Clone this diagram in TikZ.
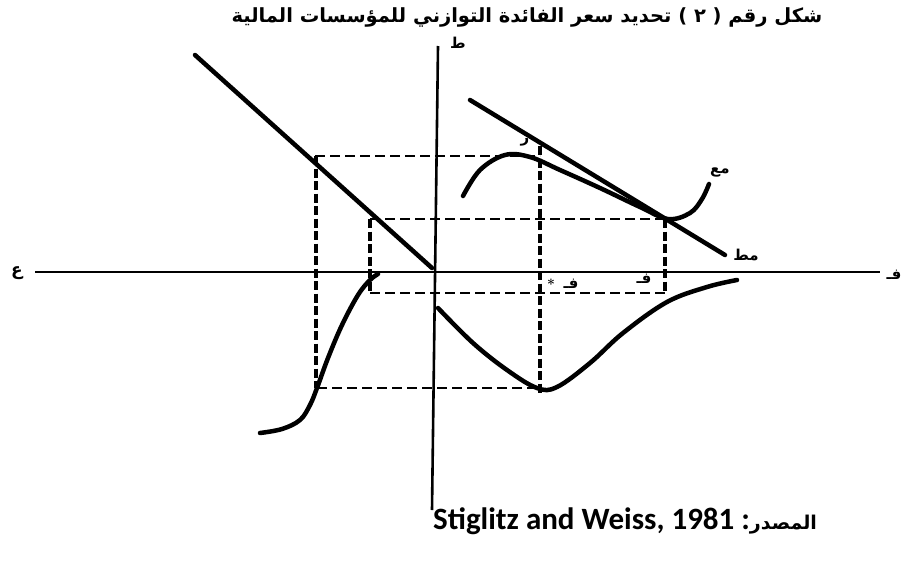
\documentclass[tikz,border=0pt]{standalone}
\usepackage{fontspec}
\newfontfamily\arb[Script=Arabic]{DejaVu Sans}
\newfontfamily\lat{Carlito}
\newcommand\arw[1]{\hbox{#1}}
\begin{document}
\begin{tikzpicture}[x=1pt,y=-1pt,
  axisline/.style={line width=2.6pt},
  curv/.style={line width=4.5pt, line cap=round},
  hdash/.style={line width=2.4pt, dash pattern=on 10pt off 5pt},
  vdash/.style={line width=3.6pt, dash pattern=on 9pt off 3.5pt},
  lab/.style={font=\arb\bfseries\fontsize{15}{15}\selectfont, inner sep=0pt}]
\useasboundingbox (0,0) rectangle (910,565);
% title (printed with its words running left to right)
\node[font=\arb\bfseries\fontsize{19.5}{19.5}\selectfont, inner sep=0pt] (title) at (527,17) {\arw{المالية} \arw{للمؤسسات} \arw{التوازني} \arw{الفائدة} \arw{سعر} \arw{تحديد} \arw{)} \arw{٢} \arw{(} \arw{رقم} \arw{شكل}};
% axes
\coordinate (xl) at (35,272); \coordinate (xr) at (880,272);
\coordinate (yt) at (438,46); \coordinate (yb) at (432,510);
\draw[axisline] (xl) -- (xr);
\draw[axisline] (yt) -- (yb);
\node[lab, font=\arb\bfseries\fontsize{17}{17}\selectfont] (lw) at (17,273) {ع};
\node[lab] (le) at (894,275) {فـ};
\node[lab] (ln) at (458,43) {ط};
% dashed guides
\draw[hdash] (315,156) -- (540,156);
\draw[hdash] (370,219) -- (665,219);
\draw[hdash] (370,293) -- (665,293);
\draw[hdash] (317,388) -- (540,388);
\draw[vdash] (316,156) -- (316,388);
\draw[vdash] (370,219) -- (370,293);
\draw[vdash] (665,219) -- (665,293);
\draw[vdash] (540,146) -- (540,393);
% left diagonal line
\coordinate (d1) at (195,55); \coordinate (d2) at (432,268);
\draw[curv] (d1) -- (d2);
% straight line m-t
\coordinate (s1) at (470,100); \coordinate (s2) at (725,255);
\draw[curv] (s1) -- (s2);
\node[lab] (lmt) at (746,255) {مط};
% hump curve
\draw[curv] plot[smooth, tension=0.6] coordinates {(463,196) (480,170) (505,155) (530,157) (560,170) (600,188) (640,207) (668,219) (690,213) (702,199) (709,184)};
\node[lab] (lme) at (720,172) {مع};
\node[lab] (lr) at (525,142) {ر};
% left S curve
\draw[curv] plot[smooth, tension=0.6] coordinates {(260,433) (282,429) (300,420) (310,405) (317,388) (328,358) (342,325) (358,295) (370,280) (378,274)};
% bottom right curve
\draw[curv] plot[smooth, tension=0.6] coordinates {(438,308) (473,343) (507,370) (537,388) (557,387) (590,363) (623,333) (667,302) (707,287) (737,280)};
% axis labels
\node[lab] (lfs) at (571,284) {فـ};
\node[font=\bfseries\fontsize{14}{14}\selectfont, inner sep=0pt] (star) at (551,284) {*};
\node[lab] (lf) at (644,279) {فـ};
% source
\node[anchor=west, inner sep=0pt] (src) at (433,521) {{\lat\bfseries\fontsize{31}{31}\selectfont Stiglitz and Weiss, 1981 :}{\arb\bfseries\fontsize{19}{19}\selectfont المصدر}};
\end{tikzpicture}
\end{document}
